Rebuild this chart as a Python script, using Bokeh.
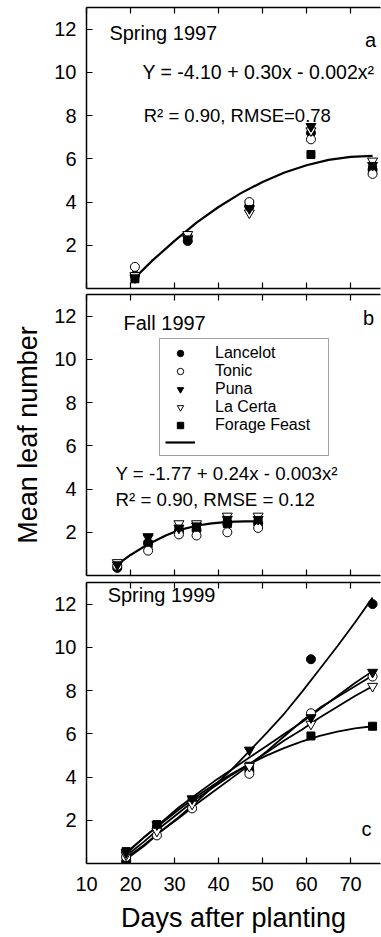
from bokeh.plotting import figure
from bokeh.layouts import column
from bokeh.models import (Range1d, LinearAxis, FixedTicker, Label, Legend, LegendItem,
                          CustomLabelingPolicy)
from bokeh.embed import file_html
from bokeh.resources import INLINE

# ---------------- data ----------------
cultivars = ["Lancelot", "Tonic", "Puna", "La Certa", "Forage Feast"]

# Spring 1997
days_a = [21, 33, 47, 61, 75]
a_lancelot = [0.6, 2.2, 3.8, 7.2, 5.5]
a_tonic = [1.0, 2.4, 4.0, 6.9, 5.3]
a_puna = [0.5, 2.3, 3.7, 7.5, 5.7]
a_lacerta = [0.6, 2.5, 3.5, 7.3, 5.9]
a_ff = [0.45, 2.3, 3.9, 6.2, 5.5]
fit_a_days = [21, 25, 30, 35, 40, 45, 50, 55, 60, 65, 70, 75]
fit_a = [0.5, 1.3, 2.2, 3.05, 3.77, 4.4, 4.93, 5.37, 5.7, 5.95, 6.09, 6.14]

# Fall 1997
days_b = [17, 24, 31, 35, 42, 49]
b_lancelot = [0.35, 1.5, 2.05, 2.1, 2.4, 2.4]
b_tonic = [0.45, 1.15, 1.9, 1.85, 2.0, 2.2]
b_puna = [0.5, 1.8, 2.2, 2.3, 2.6, 2.6]
b_lacerta = [0.6, 1.75, 2.4, 2.4, 2.75, 2.75]
b_ff = [0.45, 1.45, 2.1, 2.2, 2.4, 2.45]
fit_b_days = [17, 20, 24, 28, 31, 35, 38, 42, 46, 49]
fit_b = [0.5, 0.95, 1.45, 1.85, 2.1, 2.3, 2.4, 2.48, 2.5, 2.5]

# Spring 1999
days_c = [19, 26, 34, 47, 61, 75]
c_lancelot = [0.1, 1.7, 2.85, 4.3, 9.45, 12.0]
c_tonic = [0.3, 1.3, 2.55, 4.15, 6.95, 8.65]
c_puna = [0.5, 1.8, 3.0, 5.25, 6.75, 8.85]
c_lacerta = [0.4, 1.5, 2.75, 4.5, 6.45, 8.2]
c_ff = [0.55, 1.8, 2.9, 4.5, 5.9, 6.35]
fit_c_days = [19, 23, 27, 31, 35, 39, 43, 47, 51, 55, 59, 63, 67, 71, 75]
fit_c_lancelot = [0.2, 0.8, 1.5, 2.15, 2.85, 3.6, 4.35, 5.2, 6.05, 6.95, 7.95, 9.0, 10.05, 11.15, 12.3]
fit_c_tonic = [0.25, 0.85, 1.5, 2.1, 2.75, 3.35, 3.95, 4.55, 5.2, 5.9, 6.6, 7.2, 7.7, 8.2, 8.7]
fit_c_puna = [0.45, 1.2, 1.9, 2.6, 3.2, 3.8, 4.35, 4.9, 5.45, 6.0, 6.55, 7.15, 7.75, 8.35, 8.9]
fit_c_lacerta = [0.35, 1.0, 1.7, 2.35, 3.0, 3.55, 4.1, 4.6, 5.15, 5.7, 6.2, 6.75, 7.25, 7.75, 8.2]
fit_c_ff = [0.5, 1.2, 1.85, 2.5, 3.1, 3.65, 4.15, 4.6, 5.0, 5.35, 5.65, 5.9, 6.1, 6.25, 6.35]

x_ticks = [10, 20, 30, 40, 50, 60, 70]
y_ticks = [2, 4, 6, 8, 10, 12]
X_MIN, X_MAX = 10, 76.8
Y_MIN, Y_MAX = 0, 13

FONT = "Liberation Sans"

# marker style per cultivar: (marker, fill, size)
styles = {
    "Lancelot": ("circle", "black", 9),
    "Tonic": ("circle", "white", 9),
    "Puna": ("inverted_triangle", "black", 10),
    "La Certa": ("inverted_triangle", "white", 10),
    "Forage Feast": ("square", "black", 8),
}


def style_axis(ax):
    ax.axis_line_color = "black"
    ax.axis_line_width = 1.5
    ax.major_tick_in = 6
    ax.major_tick_out = 0
    ax.major_tick_line_color = "black"
    ax.major_tick_line_width = 1.2
    ax.minor_tick_line_color = None
    ax.major_label_text_font = FONT
    ax.major_label_text_font_size = "20px"
    ax.major_label_text_color = "black"


def tick_only_axis():
    # an x axis that draws its line and inward ticks, but no labels
    ax = LinearAxis(ticker=FixedTicker(ticks=x_ticks))
    style_axis(ax)
    ax.major_label_text_font_size = "0px"
    ax.major_label_standoff = 0
    ax.major_label_policy = CustomLabelingPolicy(code="return []")
    return ax


def make_fig(top, bottom, bottom_labels=False, ylabel=None):
    p = figure(frame_width=294, frame_height=281,
               x_range=Range1d(X_MIN, X_MAX), y_range=Range1d(Y_MIN, Y_MAX),
               output_backend="svg", toolbar_location=None,
               x_axis_location=None, y_axis_location=None,
               min_border_left=86, min_border_right=1,
               min_border_top=top, min_border_bottom=bottom)
    p.outline_line_color = None
    p.xgrid.visible = False
    p.ygrid.visible = False
    p.background_fill_color = "white"

    yax = LinearAxis(ticker=FixedTicker(ticks=y_ticks))
    style_axis(yax)
    yax.major_label_standoff = 10
    if ylabel:
        yax.axis_label = ylabel
        yax.axis_label_text_font = FONT
        yax.axis_label_text_font_size = "27px"
        yax.axis_label_text_font_style = "normal"
        yax.axis_label_text_color = "black"
        yax.axis_label_standoff = 8
    p.add_layout(yax, "left")

    p.add_layout(tick_only_axis(), "above")
    if bottom_labels:
        bax = LinearAxis(ticker=FixedTicker(ticks=x_ticks))
        style_axis(bax)
        bax.major_label_standoff = 13
        bax.axis_label = "Days after planting"
        bax.axis_label_text_font = FONT
        bax.axis_label_text_font_size = "27px"
        bax.axis_label_text_font_style = "normal"
        bax.axis_label_text_color = "black"
        bax.axis_label_standoff = 9
        p.add_layout(bax, "below")
    else:
        p.add_layout(tick_only_axis(), "below")
    return p


def add_points(p, days, series):
    rs = {}
    for name, vals in series:
        marker, fill, size = styles[name]
        rs[name] = p.scatter(days, vals, marker=marker, size=size,
                             fill_color=fill, line_color="black", line_width=1)
    return rs


def add_text(p, x, y, text, size="18px"):
    p.add_layout(Label(x=x, y=y, text=text, text_font=FONT, text_font_size=size,
                       text_baseline="middle", text_align="left", text_color="black"))


# ---------------- panel a ----------------
pa = make_fig(7, 3)
pa.line(fit_a_days, fit_a, line_color="black", line_width=2.2)
add_points(pa, days_a, [("Forage Feast", a_ff), ("Lancelot", a_lancelot),
                        ("Tonic", a_tonic), ("La Certa", a_lacerta), ("Puna", a_puna)])
add_text(pa, 15.2, 11.8, "Spring 1997", "20px")
add_text(pa, 73.3, 11.5, "a", "20px")
add_text(pa, 22.7, 10.0, "Y = -4.10 + 0.30x - 0.002x²", "19.5px")
add_text(pa, 23.0, 8.0, "R² = 0.90, RMSE=0.78", "18.5px")

# ---------------- panel b ----------------
pb = make_fig(3, 4, ylabel="Mean leaf number")
rline = pb.line(fit_b_days, fit_b, line_color="black", line_width=2.2)
rb = add_points(pb, days_b, [("Forage Feast", b_ff), ("Lancelot", b_lancelot),
                             ("Tonic", b_tonic), ("La Certa", b_lacerta), ("Puna", b_puna)])
add_text(pb, 18.4, 11.7, "Fall 1997", "20px")
add_text(pb, 72.8, 11.9, "b", "20px")
add_text(pb, 16.6, 4.72, "Y = -1.77 + 0.24x - 0.003x²", "18.7px")
add_text(pb, 16.6, 3.52, "R² = 0.90, RMSE = 0.12", "18.7px")

items = [LegendItem(label=n, renderers=[rb[n]]) for n in cultivars]
items.append(LegendItem(label=" ", renderers=[rline]))
leg = Legend(items=items, location=(73, 119))
leg.label_text_font = FONT
leg.label_text_font_size = "16px"
leg.label_text_color = "black"
leg.label_height = 16
leg.glyph_height = 16
leg.glyph_width = 30
leg.label_width = 108
leg.label_standoff = 20
leg.spacing = 0
leg.padding = 5
leg.margin = 0
leg.border_line_color = "#444444"
leg.border_line_width = 1
leg.background_fill_color = "white"
leg.background_fill_alpha = 1
pb.add_layout(leg)

# ---------------- panel c ----------------
pc = make_fig(3, 10, bottom_labels=True)
for vals in [fit_c_lancelot, fit_c_tonic, fit_c_puna, fit_c_lacerta, fit_c_ff]:
    pc.line(fit_c_days, vals, line_color="black", line_width=1.8)
add_points(pc, days_c, [("Forage Feast", c_ff), ("Lancelot", c_lancelot),
                        ("Tonic", c_tonic), ("La Certa", c_lacerta), ("Puna", c_puna)])
add_text(pc, 14.8, 12.4, "Spring 1999", "20px")
add_text(pc, 72.5, 1.6, "c", "20px")

layout = column(pa, pb, pc, spacing=0)
html = file_html(layout, INLINE)
html = html.replace("<body>", "<body style=\"margin:0\">")
open("out.html", "w").write(html)
